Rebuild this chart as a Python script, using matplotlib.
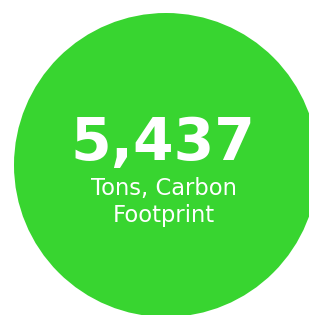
import matplotlib
matplotlib.use('Agg')
import matplotlib.pyplot as plt
from matplotlib.patches import Circle

# data
value_label = "5,437"
caption_lines = ["Tons, Carbon", "Footprint"]
circle_color = "#38d530"

W, H = 309, 315
fig = plt.figure(figsize=(W / 100, H / 100), dpi=100)
ax = fig.add_axes([0, 0, 1, 1])
ax.set_xlim(0, W)
ax.set_ylim(H, 0)
ax.axis('off')

# big disc, cropped on the right and bottom
ax.add_patch(Circle((166, 165), 152, color=circle_color, lw=0))

ax.text(162.5, 160, value_label, ha='center', va='baseline', color='white',
        fontsize=42, fontweight='bold', family='DejaVu Sans')
ax.text(163.5, 195, caption_lines[0], ha='center', va='baseline', color='white',
        fontsize=16.3, family='DejaVu Sans')
ax.text(163.5, 222, caption_lines[1], ha='center', va='baseline', color='white',
        fontsize=16.3, family='DejaVu Sans')

fig.savefig('out.png', dpi=100)
